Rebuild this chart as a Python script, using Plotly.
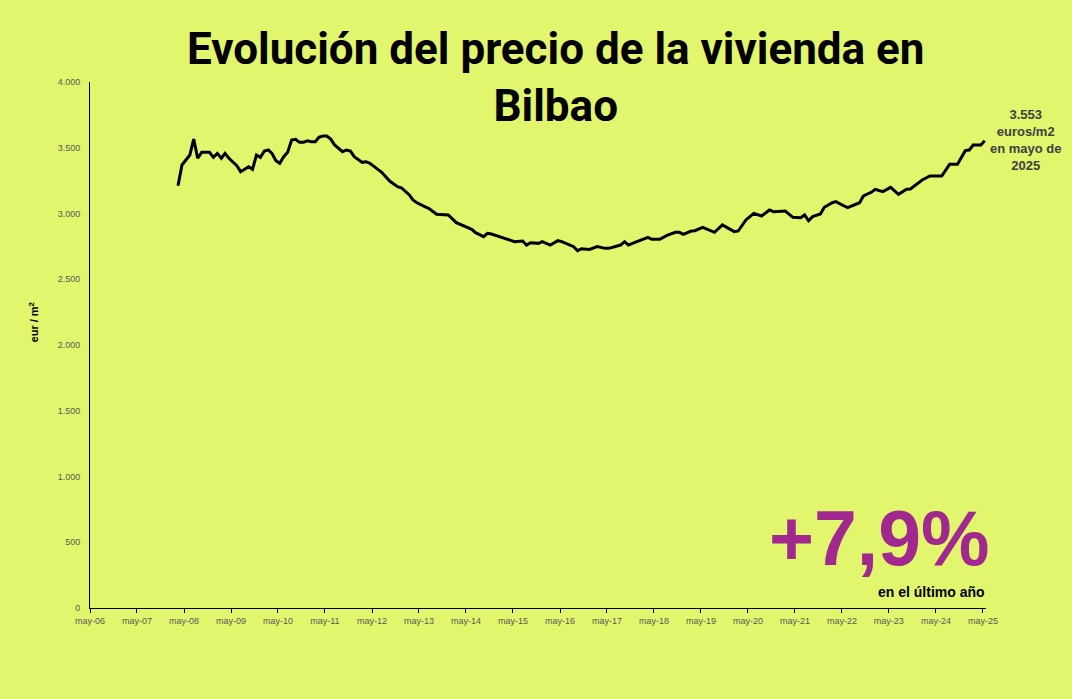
import plotly.graph_objects as go

dates = [
    "2008-03", "2008-04", "2008-06", "2008-07", "2008-08", "2008-09", "2008-11", "2008-12",
    "2009-01", "2009-02", "2009-03", "2009-04", "2009-06", "2009-07", "2009-09", "2009-10",
    "2009-11", "2009-12", "2010-01", "2010-02", "2010-03", "2010-04", "2010-05", "2010-06",
    "2010-07", "2010-08", "2010-09", "2010-10", "2010-11", "2010-12", "2011-01", "2011-02",
    "2011-03", "2011-04", "2011-05", "2011-06", "2011-07", "2011-09", "2011-10", "2011-11",
    "2011-12", "2012-02", "2012-03", "2012-04", "2012-06", "2012-07", "2012-09", "2012-11",
    "2012-12", "2013-01", "2013-02", "2013-03", "2013-04", "2013-06", "2013-07", "2013-09",
    "2013-12", "2014-02", "2014-04", "2014-06", "2014-07", "2014-09", "2014-10", "2014-11",
    "2015-01", "2015-03", "2015-05", "2015-07", "2015-08", "2015-09", "2015-11", "2015-12",
    "2016-02", "2016-04", "2016-05", "2016-08", "2016-09", "2016-10", "2016-12", "2017-02",
    "2017-04", "2017-05", "2017-08", "2017-09", "2017-10", "2017-11", "2018-01", "2018-02",
    "2018-03", "2018-04", "2018-06", "2018-08", "2018-10", "2018-11", "2018-12", "2019-02",
    "2019-03", "2019-05", "2019-06", "2019-08", "2019-10", "2019-11", "2020-01", "2020-02",
    "2020-04", "2020-06", "2020-08", "2020-10", "2020-11", "2021-02", "2021-03", "2021-04",
    "2021-06", "2021-07", "2021-08", "2021-09", "2021-11", "2021-12", "2022-02", "2022-03",
    "2022-05", "2022-06", "2022-09", "2022-10", "2022-12", "2023-01", "2023-03", "2023-05",
    "2023-07", "2023-09", "2023-10", "2024-01", "2024-03", "2024-06", "2024-08", "2024-10",
    "2024-12", "2025-01", "2025-02", "2025-04", "2025-05",
]
precio = [
    3211, 3369, 3445, 3566, 3420, 3465, 3465, 3427,
    3457, 3420, 3457, 3420, 3364, 3318, 3356, 3336,
    3445, 3427, 3475, 3483, 3457, 3402, 3382, 3432,
    3465, 3559, 3564, 3541, 3541, 3553, 3546, 3546,
    3579, 3589, 3589, 3566, 3521, 3470, 3483, 3475,
    3432, 3389, 3394, 3382, 3336, 3313, 3247, 3204,
    3196, 3166, 3141, 3103, 3082, 3052, 3040, 2994,
    2989, 2930, 2907, 2880, 2854, 2824, 2849, 2844,
    2824, 2804, 2786, 2791, 2760, 2778, 2773, 2786,
    2760, 2793, 2786, 2748, 2717, 2732, 2727, 2748,
    2735, 2735, 2760, 2786, 2760, 2773, 2798, 2806,
    2819, 2804, 2804, 2836, 2857, 2857, 2842, 2867,
    2869, 2895, 2882, 2857, 2913, 2895, 2862, 2867,
    2951, 3001, 2981, 3027, 3014, 3019, 2996, 2971,
    2968, 2989, 2945, 2976, 2996, 3047, 3082, 3090,
    3059, 3044, 3082, 3133, 3161, 3184, 3166, 3199,
    3146, 3184, 3186, 3255, 3285, 3285, 3374, 3374,
    3478, 3483, 3521, 3521, 3553,
]

tick_dates = [f"{y}-05-01" for y in range(2006, 2026)]
tick_labels = [f"may-{str(y)[2:]}" for y in range(2006, 2026)]
y_ticks = [0, 500, 1000, 1500, 2000, 2500, 3000, 3500, 4000]

title_text = "Evolución del precio de la vivienda en<br>Bilbao"
last_label = "3.553<br>euros/m2<br>en mayo de<br>2025"
big_pct = "+7,9%"
pct_sub = "en el último año"

BG = "#E1F56D"
GREY = "#595959"

fig = go.Figure()
fig.add_trace(go.Scatter(
    x=[d + "-15" for d in dates], y=precio, mode="lines",
    line=dict(color="black", width=3), hoverinfo="skip", showlegend=False,
))

fig.update_layout(
    width=1072, height=699,
    paper_bgcolor=BG, plot_bgcolor=BG,
    margin=dict(l=90, r=86, t=82, b=91),
    separators=",.",
    showlegend=False,
    font=dict(family="Liberation Sans, Arial, sans-serif", color=GREY),
)
fig.update_xaxes(
    type="date", range=["2006-05-01", "2025-05-25"],
    tickvals=tick_dates, ticktext=tick_labels,
    showgrid=False, zeroline=False,
    showline=True, linecolor="black", linewidth=1,
    ticks="outside", ticklen=4, tickcolor="black",
    tickfont=dict(size=9, color=GREY),
)
fig.update_yaxes(
    range=[0, 4000], tickvals=y_ticks, tickformat=",d",
    showgrid=False, zeroline=False,
    showline=True, linecolor="black", linewidth=1,
    ticks="", tickfont=dict(size=9, color=GREY),
    ticklabelstandoff=7,
)

fig.add_annotation(
    xref="paper", yref="paper", x=0.52, y=1.008, xanchor="center", yanchor="middle",
    text=title_text, showarrow=False,
    font=dict(family="Roboto, Liberation Sans, sans-serif", size=44, color="black", weight="bold"),
    align="center",
)
fig.add_annotation(
    xref="paper", yref="paper", x=-0.063, y=0.542, xanchor="center", yanchor="middle",
    text="eur / m<sup>2</sup>", textangle=-90, showarrow=False,
    font=dict(size=11, color="black", weight="bold"),
)
fig.add_annotation(
    xref="paper", yref="paper", x=1.045, y=0.89, xanchor="center", yanchor="middle",
    text=last_label, showarrow=False, align="center",
    font=dict(size=13, color="#404040", weight="bold"),
)
fig.add_annotation(
    xref="paper", yref="paper", x=1.006, y=0.133, xanchor="right", yanchor="middle",
    text=big_pct, showarrow=False,
    font=dict(size=77, color="#A0288F", weight="bold"),
)
fig.add_annotation(
    xref="paper", yref="paper", x=1.001, y=0.031, xanchor="right", yanchor="middle",
    text=pct_sub, showarrow=False,
    font=dict(size=14, color="black", weight="bold"),
)

fig.write_html(
    "out.html",
    config={"displayModeBar": False},
    post_script=f"document.body.style.margin='0';document.body.style.background='{BG}';",
)
